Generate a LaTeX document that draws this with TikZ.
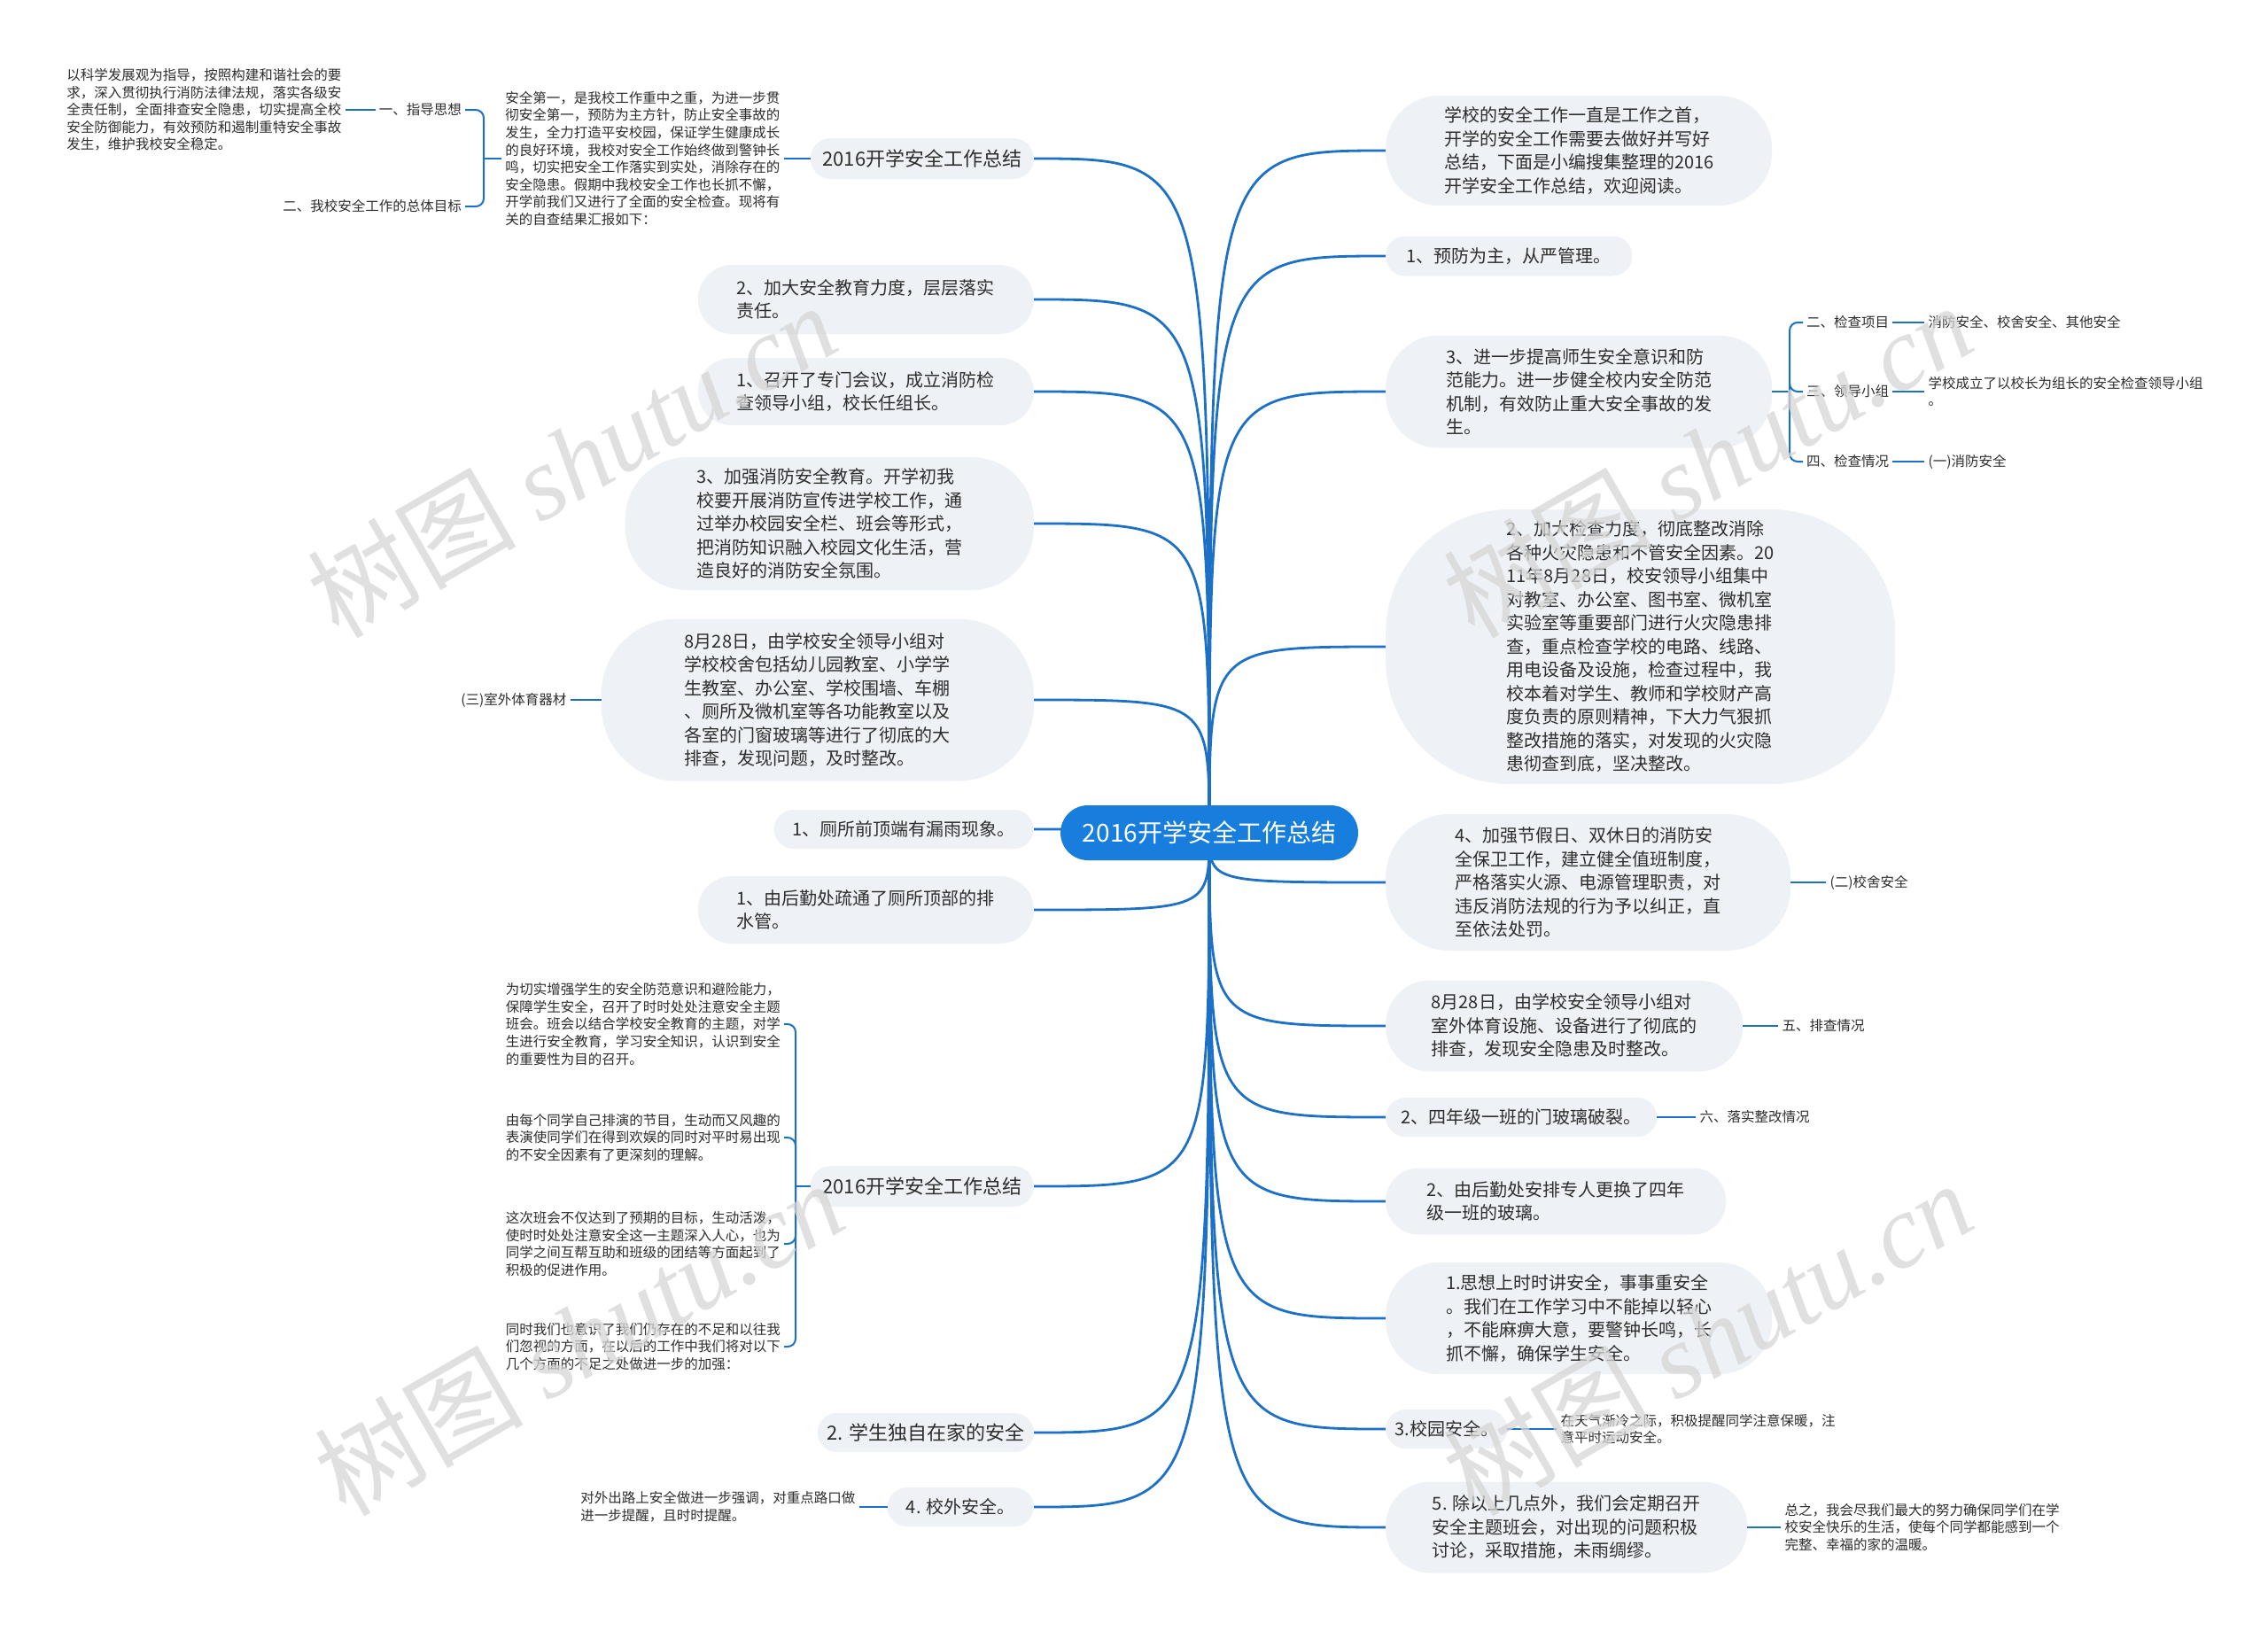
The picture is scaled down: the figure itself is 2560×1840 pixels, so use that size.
\documentclass[tikz,border=0pt]{standalone}
\usepackage{fontspec}
\setmainfont{Noto Sans CJK SC}
\newfontfamily\wmfont{Liberation Serif}
\usetikzlibrary{positioning,backgrounds}
\definecolor{topicgray}{RGB}{238,241,245}
\definecolor{rootblue}{RGB}{24,126,222}
\definecolor{linkblue}{RGB}{28,112,198}
\definecolor{ink}{RGB}{45,45,45}

\begin{document}
\begin{tikzpicture}[x=1pt, y=-1pt,
    root/.style = {fill=rootblue, text=white, rounded corners=31pt, minimum width=336pt, minimum height=62pt, font=\fontsize{28}{30}\selectfont},
    topic/.style = {fill=topicgray, text=ink, align=left, inner sep=0pt, font=\fontsize{20}{26.5}\selectfont},
    big/.style = {font=\fontsize{22}{28}\selectfont},
    sz/.style n args = {3}{minimum width=#1pt, minimum height=#2pt, rounded corners=#3pt},
    note/.style = {text=ink, align=left, inner sep=4pt, font=\fontsize{15.5}{19.6}\selectfont},
    link/.style = {draw=linkblue, line width=2.8pt},
    sublink/.style = {draw=linkblue, line width=2.6pt},
    brace/.style = {draw=linkblue, line width=2pt, rounded corners=9pt},
    wm/.style = {rotate=30, text=black!16, text opacity=0.75, font=\fontsize{118}{118}\selectfont}]
    \useasboundingbox (0,0) rectangle (2560,1840);

    \node[root] (root) at (1365,940) {2016开学安全工作总结};

    \node[topic, big, sz={252}{46}{23}, anchor=east] (l1) at (1167,179) {2016开学安全工作总结};
    \node[topic, sz={379}{78}{39}, anchor=east] (l2) at (1167,338) {2、加大安全教育力度，层层落实\\责任。};
    \node[topic, sz={379}{76}{38}, anchor=east] (l3) at (1167,442) {1、召开了专门会议，成立消防检\\查领导小组，校长任组长。};
    \node[topic, sz={461}{150}{70}, anchor=east] (l4) at (1167,591) {3、加强消防安全教育。开学初我\\校要开展消防宣传进学校工作，通\\过举办校园安全栏、班会等形式，\\把消防知识融入校园文化生活，营\\造良好的消防安全氛围。};
    \node[topic, sz={488}{183}{85}, anchor=east] (l5) at (1167,790) {8月28日，由学校安全领导小组对\\学校校舍包括幼儿园教室、小学学\\生教室、办公室、学校围墙、车棚\\、厕所及微机室等各功能教室以及\\各室的门窗玻璃等进行了彻底的大\\排查，发现问题，及时整改。};
    \node[topic, sz={293}{44}{22}, anchor=east] (l6) at (1167,936) {1、厕所前顶端有漏雨现象。};
    \node[topic, sz={379}{76}{38}, anchor=east] (l7) at (1167,1027) {1、由后勤处疏通了厕所顶部的排\\水管。};
    \node[topic, big, sz={252}{46}{23}, anchor=east] (l8) at (1167,1339) {2016开学安全工作总结};
    \node[topic, big, sz={244}{44}{22}, anchor=east] (l9) at (1167,1617) {2. 学生独自在家的安全};
    \node[topic, sz={165}{44}{22}, anchor=east] (l10) at (1167,1701) {4. 校外安全。};

    \node[topic, sz={436}{124}{60}, anchor=west] (r1) at (1564,170) {学校的安全工作一直是工作之首，\\开学的安全工作需要去做好并写好\\总结，下面是小编搜集整理的2016\\开学安全工作总结，欢迎阅读。};
    \node[topic, sz={278}{45}{22}, anchor=west] (r2) at (1564,289) {1、预防为主，从严管理。};
    \node[topic, sz={436}{127}{60}, anchor=west] (r3) at (1564,442) {3、进一步提高师生安全意识和防\\范能力。进一步健全校内安全防范\\机制，有效防止重大安全事故的发\\生。};
    \node[topic, sz={575}{310}{140}, anchor=west] (r4) at (1564,730) {2、加大检查力度，彻底整改消除\\各种火灾隐患和不管安全因素。20\\11年8月28日，校安领导小组集中\\对教室、办公室、图书室、微机室\\实验室等重要部门进行火灾隐患排\\查，重点检查学校的电路、线路、\\用电设备及设施，检查过程中，我\\校本着对学生、教师和学校财产高\\度负责的原则精神，下大力气狠抓\\整改措施的落实，对发现的火灾隐\\患彻查到底，坚决整改。};
    \node[topic, sz={457}{154}{72}, anchor=west] (r5) at (1564,996) {4、加强节假日、双休日的消防安\\全保卫工作，建立健全值班制度，\\严格落实火源、电源管理职责，对\\违反消防法规的行为予以纠正，直\\至依法处罚。};
    \node[topic, sz={403}{103}{50}, anchor=west] (r6) at (1564,1158) {8月28日，由学校安全领导小组对\\室外体育设施、设备进行了彻底的\\排查，发现安全隐患及时整改。};
    \node[topic, sz={306}{44}{22}, anchor=west] (r7) at (1564,1261) {2、四年级一班的门玻璃破裂。};
    \node[topic, sz={384}{75}{37}, anchor=west] (r8) at (1564,1356) {2、由后勤处安排专人更换了四年\\级一班的玻璃。};
    \node[topic, sz={436}{126}{60}, anchor=west] (r9) at (1564,1488) {1.思想上时时讲安全，事事重安全\\。我们在工作学习中不能掉以轻心\\，不能麻痹大意，要警钟长鸣，长\\抓不懈，确保学生安全。};
    \node[topic, sz={137}{44}{22}, anchor=west] (r10) at (1564,1613) {3.校园安全。};
    \node[topic, sz={408}{103}{50}, anchor=west] (r11) at (1564,1724) {5. 除以上几点外，我们会定期召开\\安全主题班会，对出现的问题积极\\讨论，采取措施，未雨绸缪。};

    \node[note, left=30pt of l1] (l1a) {安全第一，是我校工作重中之重，为进一步贯\\彻安全第一，预防为主方针，防止安全事故的\\发生，全力打造平安校园，保证学生健康成长\\的良好环境，我校对安全工作始终做到警钟长\\鸣，切实把安全工作落实到实处，消除存在的\\安全隐患。假期中我校安全工作也长抓不懈，\\开学前我们又进行了全面的安全检查。现将有\\关的自查结果汇报如下：};
    \node[note, anchor=east] (g1) at (525,124) {一、指导思想};
    \node[note, anchor=east] (g2) at (525,233) {二、我校安全工作的总体目标};
    \node[note, left=34pt of g1] (g1a) {以科学发展观为指导，按照构建和谐社会的要\\求，深入贯彻执行消防法律法规，落实各级安\\全责任制，全面排查安全隐患，切实提高全校\\安全防御能力，有效预防和遏制重特安全事故\\发生，维护我校安全稳定。};
    \node[note, left=35pt of l5] (l5a) {(三)室外体育器材};
    \node[note, anchor=east] (l8a) at (885,1156) {为切实增强学生的安全防范意识和避险能力，\\保障学生安全，召开了时时处处注意安全主题\\班会。班会以结合学校安全教育的主题，对学\\生进行安全教育，学习安全知识，认识到安全\\的重要性为目的召开。};
    \node[note, anchor=east] (l8b) at (885,1284) {由每个同学自己排演的节目，生动而又风趣的\\表演使同学们在得到欢娱的同时对平时易出现\\的不安全因素有了更深刻的理解。};
    \node[note, anchor=east] (l8c) at (885,1404) {这次班会不仅达到了预期的目标，生动活泼，\\使时时处处注意安全这一主题深入人心，也为\\同学之间互帮互助和班级的团结等方面起到了\\积极的促进作用。};
    \node[note, anchor=east] (l8d) at (885,1520) {同时我们也意识了我们仍存在的不足和以往我\\们忽视的方面，在以后的工作中我们将对以下\\几个方面的不足之处做进一步的加强：};
    \node[note, left=32pt of l10] (l10a) {对外出路上安全做进一步强调，对重点路口做\\进一步提醒，且时时提醒。};

    \node[note, anchor=west] (k1) at (2035,364) {二、检查项目};
    \node[note, anchor=west] (k2) at (2035,442) {三、领导小组};
    \node[note, anchor=west] (k3) at (2035,521) {四、检查情况};
    \node[note, right=36pt of k1] (k1a) {消防安全、校舍安全、其他安全};
    \node[note, right=36pt of k2] (k2a) {学校成立了以校长为组长的安全检查领导小组\\。};
    \node[note, right=36pt of k3] (k3a) {(一)消防安全};
    \node[note, right=40pt of r5] (r5a) {(二)校舍安全};
    \node[note, right=40pt of r6] (r6a) {五、排查情况};
    \node[note, right=44pt of r7] (r7a) {六、落实整改情况};
    \node[note, right=56pt of r10] (r10a) {在天气渐冷之际，积极提醒同学注意保暖，注\\意平时运动安全。};
    \node[note, right=38pt of r11] (r11a) {总之，我会尽我们最大的努力确保同学们在学\\校安全快乐的生活，使每个同学都能感到一个\\完整、幸福的家的温暖。};

    \begin{scope}[on background layer]
        \fill[white] (0,0) rectangle (2560,1840);
        \foreach \n in {l1,l2,l3,l4,l5,l6,l7,l8,l9,l10}
            \draw[link] (root.center) .. controls (root.center |- \n.east) .. (\n.east);
        \foreach \n in {r1,r2,r3,r4,r5,r6,r7,r8,r9,r10,r11}
            \draw[link] (root.center) .. controls (root.center |- \n.west) .. (\n.west);
    \end{scope}

    \coordinate (b1) at (546,179);
    \draw[sublink] (l1.west) -- (l1a.east);
    \draw[sublink] (l1a.west) -- (b1);
    \draw[brace] (b1) |- (g1.east);
    \draw[brace] (b1) |- (g2.east);
    \draw[sublink] (g1.west) -- (g1a.east);
    \draw[sublink] (l5.west) -- (l5a.east);
    \coordinate (b8) at (898,1339);
    \draw[sublink] (l8.west) -- (b8);
    \foreach \c in {l8a,l8b,l8c,l8d}
        \draw[brace] (b8) |- (\c.east);
    \draw[sublink] (l10.west) -- (l10a.east);

    \coordinate (b3) at (2020,442);
    \draw[sublink] (r3.east) -- (b3);
    \foreach \c in {k1,k2,k3}
        \draw[brace] (b3) |- (\c.west);
    \draw[sublink] (k1.east) -- (k1a.west);
    \draw[sublink] (k2.east) -- (k2a.west);
    \draw[sublink] (k3.east) -- (k3a.west);
    \draw[sublink] (r5.east) -- (r5a.west);
    \draw[sublink] (r6.east) -- (r6a.west);
    \draw[sublink] (r7.east) -- (r7a.west);
    \draw[sublink] (r10.east) -- (r10a.west);
    \draw[sublink] (r11.east) -- (r11a.west);

    \foreach \wx/\wy in {645/519, 1927/519, 653/1510, 1927/1510}
        \node[wm] (wm\wx) at (\wx,\wy) {树图 {\wmfont\itshape shutu.cn}};
\end{tikzpicture}
\end{document}
